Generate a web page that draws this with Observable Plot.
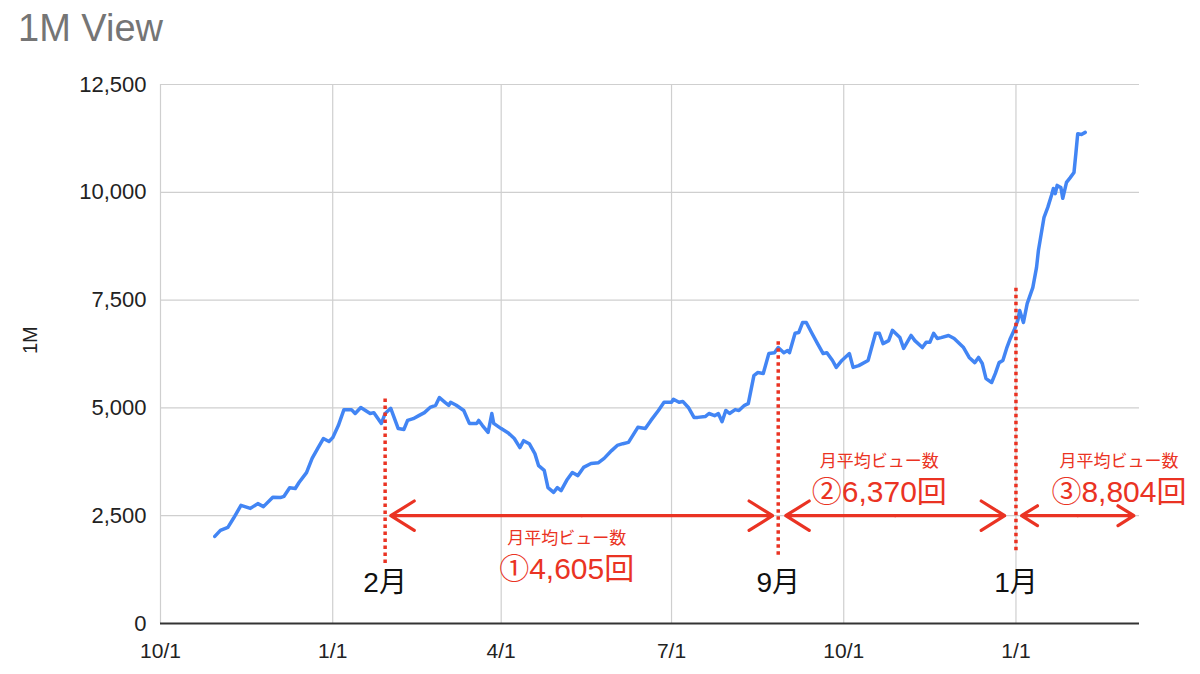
<!DOCTYPE html>
<html>
<head>
<meta charset="utf-8">
<script src="https://cdn.jsdelivr.net/npm/d3@7"></script>
<script src="https://cdn.jsdelivr.net/npm/@observablehq/plot@0.6"></script>
<style>
  body { margin: 0; background: #fff; font-family: "Liberation Sans", "Noto Sans CJK JP", sans-serif; }
  #title { height: 56px; box-sizing: border-box; padding: 9px 0 0 18px; font-size: 38px; line-height: 38px; color: #757575; }
</style>
</head>
<body>
<div id="title">1M View</div>
<div id="chart"></div>
<script>
// daily views
const dates = [
  "2021-10-30","2021-11-02","2021-11-06","2021-11-09","2021-11-13","2021-11-18","2021-11-22","2021-11-25","2021-11-30",
  "2021-12-04","2021-12-06","2021-12-09","2021-12-12","2021-12-14","2021-12-18","2021-12-21","2021-12-24","2021-12-27","2021-12-30",
  "2022-01-01","2022-01-04","2022-01-07","2022-01-11","2022-01-13","2022-01-16","2022-01-21","2022-01-23","2022-01-27","2022-01-29",
  "2022-02-01","2022-02-05","2022-02-08","2022-02-10","2022-02-13","2022-02-16","2022-02-19","2022-02-22","2022-02-25","2022-02-27",
  "2022-03-02","2022-03-04","2022-03-05","2022-03-08","2022-03-12","2022-03-15","2022-03-19","2022-03-20","2022-03-22","2022-03-25","2022-03-27","2022-03-28",
  "2022-04-01","2022-04-05","2022-04-08","2022-04-11","2022-04-13","2022-04-16","2022-04-19","2022-04-21","2022-04-24","2022-04-26","2022-04-29",
  "2022-05-01","2022-05-03","2022-05-06","2022-05-09","2022-05-12","2022-05-15","2022-05-19","2022-05-23","2022-05-26","2022-05-30",
  "2022-06-02","2022-06-05","2022-06-08","2022-06-13","2022-06-17","2022-06-20","2022-06-24","2022-06-27",
  "2022-07-01","2022-07-02","2022-07-05","2022-07-07","2022-07-10","2022-07-13","2022-07-15","2022-07-19","2022-07-21","2022-07-24","2022-07-26","2022-07-28","2022-07-30",
  "2022-08-01","2022-08-04","2022-08-06","2022-08-09","2022-08-11","2022-08-14","2022-08-16","2022-08-19","2022-08-22","2022-08-25","2022-08-27","2022-08-30",
  "2022-09-01","2022-09-02","2022-09-05","2022-09-07","2022-09-09","2022-09-11","2022-09-14","2022-09-17","2022-09-20","2022-09-22","2022-09-25","2022-09-27","2022-09-30",
  "2022-10-04","2022-10-06","2022-10-09","2022-10-14","2022-10-18","2022-10-20","2022-10-22","2022-10-25","2022-10-27","2022-10-31",
  "2022-11-02","2022-11-06","2022-11-08","2022-11-12","2022-11-14","2022-11-16","2022-11-18","2022-11-20","2022-11-22","2022-11-26","2022-11-29",
  "2022-12-04","2022-12-07","2022-12-10","2022-12-12","2022-12-14","2022-12-16","2022-12-19","2022-12-21","2022-12-23","2022-12-25","2022-12-27","2022-12-29","2022-12-31",
  "2023-01-02","2023-01-03","2023-01-05","2023-01-07","2023-01-10","2023-01-12","2023-01-13","2023-01-16","2023-01-18","2023-01-20","2023-01-21","2023-01-22","2023-01-23","2023-01-25","2023-01-26","2023-01-28","2023-01-30",
  "2023-02-01","2023-02-02","2023-02-03","2023-02-05","2023-02-07"
];
const views = [
  2020,2160,2230,2440,2740,2670,2780,2710,2930,
  2920,2950,3150,3130,3270,3500,3830,4060,4290,4220,
  4310,4590,4960,4960,4870,5010,4870,4890,4640,4870,
  4990,4520,4500,4710,4750,4820,4890,5010,5060,5240,
  5130,5060,5130,5060,4940,4640,4640,4710,4590,4430,4870,4640,
  4520,4410,4290,4080,4240,4170,3940,3660,3550,3150,3040,
  3150,3080,3320,3500,3430,3620,3710,3730,3830,4010,
  4130,4170,4200,4550,4520,4710,4940,5130,
  5130,5200,5130,5150,5010,4780,4780,4800,4870,4820,4870,4680,4940,
  4870,4960,4940,5060,5100,5750,5820,5800,6260,6280,6400,6280,
  6330,6280,6730,6750,6980,6980,6730,6490,6260,6280,6100,5940,6100,
  6260,5940,5980,6100,6730,6730,6490,6560,6800,6630,
  6380,6680,6560,6400,6520,6520,6730,6610,6630,6680,6610,
  6400,6170,6050,6170,6030,5680,5590,5800,6050,6100,6380,6610,6800,
  7030,7260,6980,7420,7790,8260,8650,9420,9650,9930,10090,9970,10160,10110,9860,10230,10340,
  10460,10900,11360,11340,11390
];

const xTicks = ["2021-10-01","2022-01-01","2022-04-01","2022-07-01","2022-10-01","2023-01-01"];
const yTicks = [0, 2500, 5000, 7500, 10000, 12500];

// period markers
const splitDates = ["2022-01-29", "2022-08-27", "2023-01-01"];
const splitLabels = ["2月", "9月", "1月"];
const splitTop = [5290, 6610, 7840];
const splitBottom = [1390, 1580, 1690];

// monthly average spans
const spanStart = ["2022-02-01", "2022-08-31", "2023-01-04"];
const spanEnd = ["2022-08-24", "2022-12-26", "2023-03-05"];
const spanTitle = "月平均ビュー数";
const spanAvg = ["①4,605回", "②6,370回", "③8,804回"];
const spanTextDate = ["2022-05-06", "2022-10-20", "2023-02-25"];
const spanTitleY = [1970, 3760, 3760];
const spanAvgY = [1250, 3040, 3040];

const red = "#ea3323";
const font = "Liberation Sans, Noto Sans CJK JP, sans-serif";
const toDate = s => new Date(s);

const data = dates.map((d, i) => ({date: toDate(d), views: views[i]}));

const splits = splitDates.map((d, i) => ({
  date: toDate(d), top: splitTop[i], bottom: splitBottom[i], label: splitLabels[i]
}));

const spans = spanStart.map((d, i) => {
  const a = toDate(d), b = toDate(spanEnd[i]);
  return {
    start: a, end: b, mid: new Date((+a + +b) / 2),
    textDate: toDate(spanTextDate[i]), titleY: spanTitleY[i], avgY: spanAvgY[i], avg: spanAvg[i]
  };
});

const arrowStyle = {y1: 2500, y2: 2500, stroke: red, strokeWidth: 3.2, headLength: 13, headAngle: 64};

const chart = Plot.plot({
  width: 1200,
  height: 618,
  marginLeft: 160,
  marginRight: 61,
  marginTop: 28,
  marginBottom: 51,
  style: {fontFamily: font, background: "#fff", color: "#222"},
  x: {type: "utc", domain: [toDate("2021-10-01"), toDate("2023-03-08")]},
  y: {domain: [0, 12500]},
  marks: [
    Plot.gridY(yTicks, {stroke: "#cfcfcf", strokeOpacity: 1, strokeWidth: 1.2}),
    Plot.gridX(xTicks.map(toDate), {stroke: "#cfcfcf", strokeOpacity: 1, strokeWidth: 1.2}),
    Plot.axisY({ticks: yTicks, tickSize: 0, tickPadding: 14, tickFormat: d3.format(","), fontSize: 22, label: null}),
    Plot.axisX({ticks: xTicks.map(toDate), tickSize: 0, tickPadding: 20, tickFormat: d3.utcFormat("%-m/%-d"), fontSize: 21, label: null}),
    Plot.ruleY([0], {stroke: "#333", strokeWidth: 2}),
    Plot.text(["1M"], {frameAnchor: "left", dx: -130, rotate: -90, fontSize: 20, fill: "#222"}),
    Plot.lineY(data, {x: "date", y: "views", stroke: "#4285f4", strokeWidth: 3.5, strokeLinejoin: "round"}),
    Plot.ruleX(splits, {x: "date", y1: "bottom", y2: "top", stroke: red, strokeWidth: 3.5, strokeDasharray: "3.5,3.5"}),
    Plot.arrow(spans, {x1: "mid", x2: "start", ...arrowStyle}),
    Plot.arrow(spans, {x1: "mid", x2: "end", ...arrowStyle}),
    Plot.text(spans, {x: "textDate", y: "titleY", text: () => spanTitle, fill: red, fontSize: 17}),
    Plot.text(spans, {x: "textDate", y: "avgY", text: "avg", fill: red, fontSize: 30}),
    Plot.text(splits, {x: "date", y: () => 950, text: "label", fill: "#111", fontSize: 28})
  ]
});

d3.select("#chart").append(() => chart);
</script>
</body>
</html>
